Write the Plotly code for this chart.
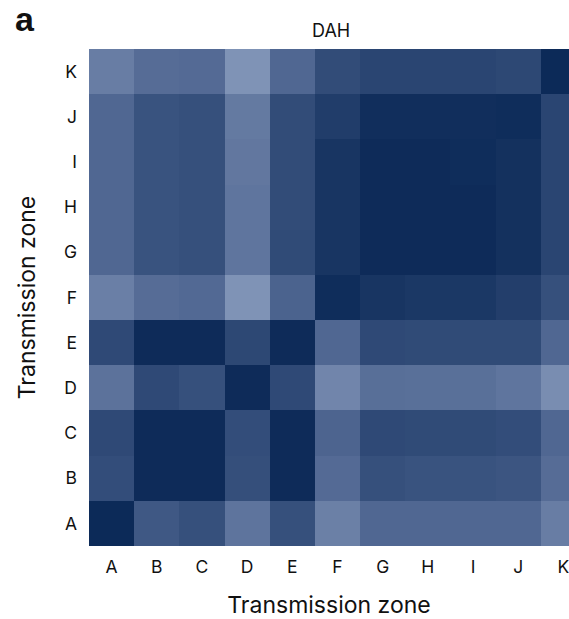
import plotly.graph_objects as go

zones = ["A", "B", "C", "D", "E", "F", "G", "H", "I", "J", "K"]

# Pairwise transmission-zone similarity; rows listed from A (bottom) to K (top)
row_A = [1.00, 0.66, 0.72, 0.43, 0.72, 0.32, 0.55, 0.55, 0.55, 0.55, 0.35]
row_B = [0.74, 0.99, 0.99, 0.73, 0.99, 0.52, 0.72, 0.70, 0.70, 0.68, 0.50]
row_C = [0.77, 0.99, 0.99, 0.74, 0.99, 0.57, 0.77, 0.76, 0.76, 0.74, 0.55]
row_D = [0.45, 0.77, 0.72, 0.99, 0.77, 0.27, 0.48, 0.47, 0.47, 0.42, 0.20]
row_E = [0.77, 0.99, 0.99, 0.78, 0.99, 0.55, 0.77, 0.76, 0.76, 0.76, 0.55]
row_F = [0.33, 0.50, 0.53, 0.15, 0.58, 0.98, 0.92, 0.90, 0.90, 0.85, 0.72]
row_G = [0.55, 0.70, 0.72, 0.42, 0.76, 0.92, 0.99, 0.99, 0.99, 0.95, 0.80]
row_H = [0.55, 0.70, 0.72, 0.42, 0.75, 0.92, 0.99, 0.99, 0.99, 0.95, 0.80]
row_I = [0.55, 0.70, 0.72, 0.40, 0.75, 0.92, 0.99, 0.99, 0.98, 0.95, 0.80]
row_J = [0.55, 0.70, 0.72, 0.38, 0.75, 0.86, 0.97, 0.97, 0.97, 0.98, 0.80]
row_K = [0.35, 0.50, 0.52, 0.15, 0.55, 0.75, 0.80, 0.80, 0.80, 0.78, 1.00]

matrix = [row_A, row_B, row_C, row_D, row_E, row_F,
          row_G, row_H, row_I, row_J, row_K]

blues = [[0.0, "#8598BA"], [0.5, "#506792"], [1.0, "#0C2A58"]]

W, H = 569, 619
M_L, M_R, M_T, M_B = 89, 0, 49, 73
plot_w = W - M_L - M_R
plot_h = H - M_T - M_B
cell = plot_h / len(zones)  # square cells; the last column runs past the page edge

fig = go.Figure(go.Heatmap(
    z=matrix,
    x=list(range(len(zones))),
    y=list(range(len(zones))),
    colorscale=blues,
    zmin=0.1, zmax=1.0,
    showscale=False,
))

font = "Inter, Roboto, sans-serif"

fig.update_layout(
    width=W, height=H,
    margin=dict(l=M_L, r=M_R, t=M_T, b=M_B),
    plot_bgcolor="white", paper_bgcolor="white",
    font=dict(family=font, color="#111111"),
    xaxis=dict(
        range=[-0.5, -0.5 + plot_w / cell],
        tickvals=list(range(len(zones))), ticktext=zones,
        showgrid=False, zeroline=False, showline=False, ticks="",
        tickfont=dict(size=17.5), ticklabelstandoff=8, ticklabeloverflow="allow",
        title=dict(text="Transmission zone", font=dict(size=23), standoff=21),
    ),
    yaxis=dict(
        range=[-0.5, 10.5], tickvals=list(range(len(zones))), ticktext=zones,
        showgrid=False, zeroline=False, showline=False, ticks="",
        tickfont=dict(size=17.5), ticklabelstandoff=11,
        title=dict(text="Transmission zone", font=dict(size=23), standoff=21),
    ),
    annotations=[
        dict(text="DAH", xref="paper", yref="paper",
             x=(331 - M_L) / plot_w, y=1 + (M_T - 30) / plot_h,
             xanchor="center", yanchor="middle",
             showarrow=False, font=dict(size=18)),
        dict(text="<b>a</b>", xref="paper", yref="paper",
             x=(13 - M_L) / plot_w, y=1 + (M_T + 2) / plot_h,
             xanchor="left", yanchor="top",
             showarrow=False, font=dict(size=34, family="Liberation Sans, Arial")),
    ],
)

fig.write_html("out.html")
